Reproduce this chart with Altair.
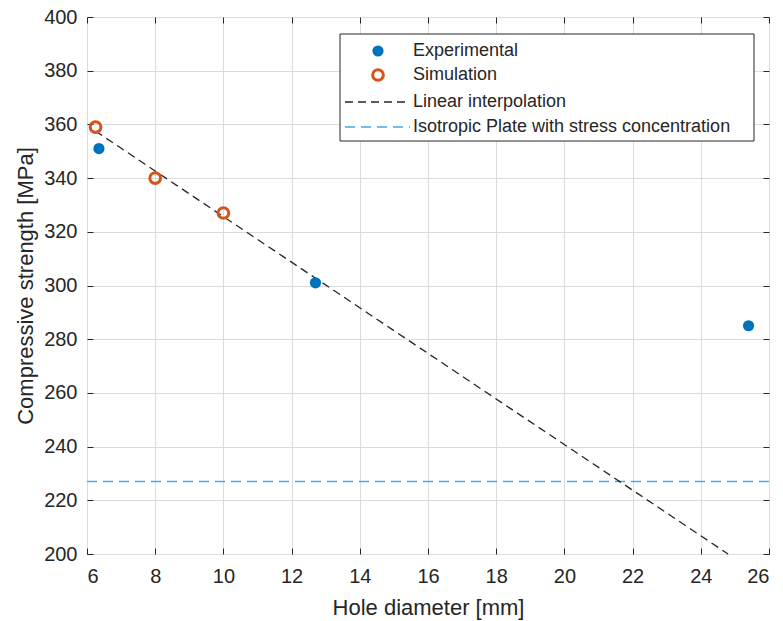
import altair as alt
import pandas as pd

# ---- data ----
exp_x = [6.35, 12.7, 25.4]
exp_y = [351, 301, 285]
sim_x = [6.25, 8.0, 10.0]
sim_y = [359, 340, 327]
lin_x = [6.25, 24.8]
lin_y = [357.5, 200.0]
iso_x = [6, 26]
iso_y = [227, 227]
legend_labels = ["Experimental", "Simulation", "Linear interpolation",
                 "Isotropic Plate with stress concentration"]
x_ticks = list(range(6, 27, 2))
y_ticks = list(range(200, 401, 20))

W, H = 682, 537
BLUE = "#0072BD"
ORANGE = "#D95319"
CYAN = "#3FAEEC"
DARK = "#262626"
FONT = "Liberation Sans"

exp_df = pd.DataFrame({"x": exp_x, "y": exp_y})
sim_df = pd.DataFrame({"x": sim_x, "y": sim_y})
lin_df = pd.DataFrame({"x": lin_x, "y": lin_y})
iso_df = pd.DataFrame({"x": iso_x, "y": iso_y})

xs = alt.Scale(domain=[6, 26], nice=False, zero=False)
ys = alt.Scale(domain=[200, 400], nice=False, zero=False)

ax_x = alt.Axis(values=x_ticks, title="Hole diameter [mm]", grid=True,
                gridColor="#dcdcdc", ticks=False, domain=False,
                labelFontSize=20, titleFontSize=22, labelFont=FONT, titleFont=FONT,
                labelColor=DARK, titleColor=DARK, titleFontWeight="normal",
                labelPadding=12, titlePadding=11)
ax_y = alt.Axis(values=y_ticks, title="Compressive strength [MPa]", grid=True,
                gridColor="#dcdcdc", ticks=False, domain=False,
                labelFontSize=20, titleFontSize=22, labelFont=FONT, titleFont=FONT,
                labelColor=DARK, titleColor=DARK, titleFontWeight="normal",
                labelPadding=10, titlePadding=6)

def tick_axis(values, orient, offset):
    return alt.Axis(values=values, orient=orient, offset=offset, labels=False,
                    grid=False, domain=False, ticks=True, tickSize=6,
                    tickColor=DARK, tickWidth=1, title=None)

iso = alt.Chart(iso_df).mark_line(color=CYAN, strokeWidth=1.6, strokeDash=[10, 6]).encode(
    x=alt.X("x:Q", scale=xs, axis=ax_x),
    y=alt.Y("y:Q", scale=ys, axis=ax_y),
)

ticks_a = alt.Chart(iso_df).mark_line(opacity=0).encode(
    x=alt.X("x:Q", scale=xs, axis=tick_axis(x_ticks, "top", -H)),
    y=alt.Y("y:Q", scale=ys, axis=tick_axis(y_ticks, "right", -W)),
)
ticks_b = alt.Chart(iso_df).mark_line(opacity=0).encode(
    x=alt.X("x:Q", scale=xs, axis=tick_axis(x_ticks, "bottom", -H)),
    y=alt.Y("y:Q", scale=ys, axis=tick_axis(y_ticks, "left", -W)),
)

lin = alt.Chart(lin_df).mark_line(color=DARK, strokeWidth=1.3, strokeDash=[8, 5]).encode(
    x=alt.X("x:Q", scale=xs, axis=None),
    y=alt.Y("y:Q", scale=ys, axis=None),
)

exp = alt.Chart(exp_df).mark_circle(color=BLUE, size=125, opacity=1).encode(
    x=alt.X("x:Q", scale=xs, axis=None),
    y=alt.Y("y:Q", scale=ys, axis=None),
)

sim = alt.Chart(sim_df).mark_point(shape="circle", filled=False, color=ORANGE,
                                    strokeWidth=3, size=115, opacity=1).encode(
    x=alt.X("x:Q", scale=xs, axis=None),
    y=alt.Y("y:Q", scale=ys, axis=None),
)

# ---- legend (drawn in pixel space) ----
one = pd.DataFrame({"k": [0]})
LX0, LX1, LY0, LY1 = 253, 667, 17, 124
entry_y = [34, 58, 85, 110]
sym_x = 291
line_x0, line_x1 = 258, 323
text_x = 326

leg_box = alt.Chart(one).mark_rect(fill="white", stroke=DARK, strokeWidth=1).encode(
    x=alt.value(LX0), x2=alt.value(LX1), y=alt.value(LY0), y2=alt.value(LY1))
leg_exp = alt.Chart(one).mark_circle(color=BLUE, size=125, opacity=1).encode(
    x=alt.value(sym_x), y=alt.value(entry_y[0]))
leg_sim = alt.Chart(one).mark_point(shape="circle", filled=False, color=ORANGE,
                                     strokeWidth=3, size=115, opacity=1).encode(
    x=alt.value(sym_x), y=alt.value(entry_y[1]))
leg_lin = alt.Chart(one).mark_rule(color=DARK, strokeWidth=1.3, strokeDash=[8, 5]).encode(
    x=alt.value(line_x0), x2=alt.value(line_x1), y=alt.value(entry_y[2]))
leg_iso = alt.Chart(one).mark_rule(color=CYAN, strokeWidth=1.6, strokeDash=[10, 6]).encode(
    x=alt.value(line_x0), x2=alt.value(line_x1), y=alt.value(entry_y[3]))
leg_texts = [
    alt.Chart(one).mark_text(align="left", baseline="middle", fontSize=18,
                             font=FONT, color=DARK).encode(
        x=alt.value(text_x), y=alt.value(entry_y[i]), text=alt.value(lab))
    for i, lab in enumerate(legend_labels)
]

chart = alt.layer(
    iso, ticks_a, ticks_b, lin, exp, sim,
    leg_box, leg_exp, leg_sim, leg_lin, leg_iso, *leg_texts
).resolve_axis(x="independent", y="independent").properties(
    width=W, height=H,
    autosize=alt.AutoSizeParams(type="none"),
    padding={"left": 79, "top": 9, "right": 6, "bottom": 66},
    background="white",
).configure_view(stroke="#404040", strokeWidth=1)

chart.save("out.html", embed_options={"renderer": "svg", "actions": False})
